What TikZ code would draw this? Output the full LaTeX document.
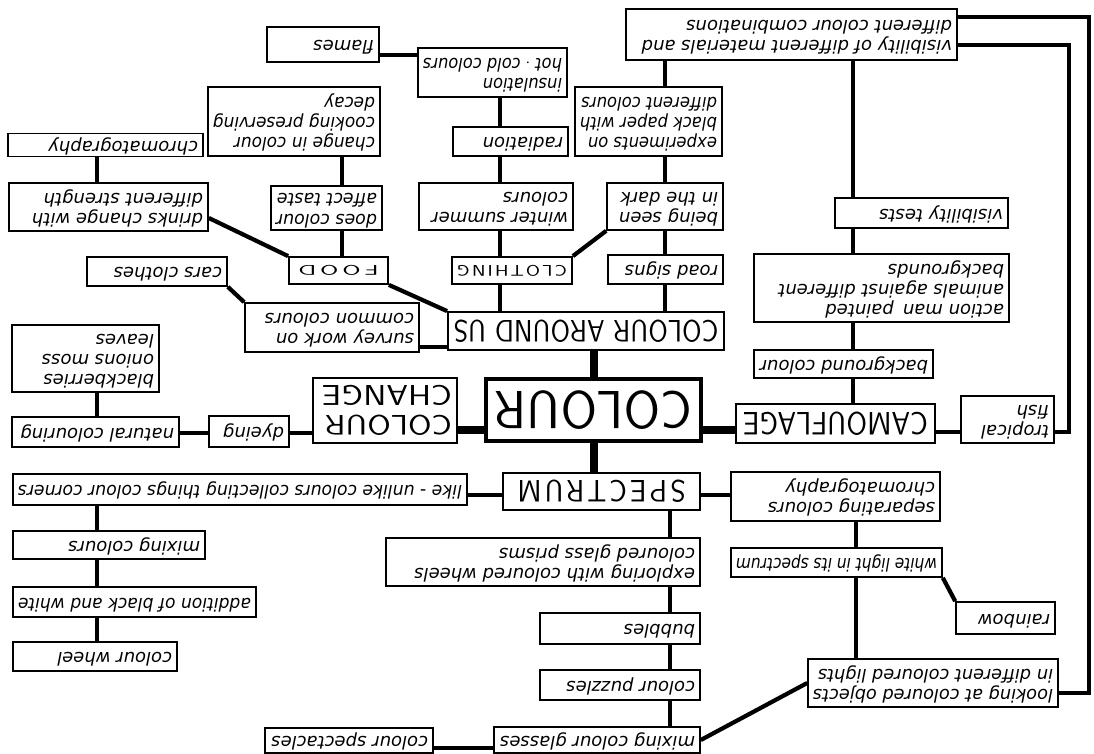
\documentclass[tikz,border=0pt]{standalone}
\usepackage{fontspec}
\usepackage{graphicx}
\usetikzlibrary{backgrounds}
\newfontfamily\hand{DejaVu Sans}
\newcommand\handfont{\hand\itshape\fontsize{18}{20}\selectfont}
\newsavebox\udbox
% text turned upside down, left aligned in its own frame, squeezed if too wide
\newcommand\ud[2]{%
  \sbox\udbox{\begin{tabular}{@{}l@{}}#2\end{tabular}}%
  \ifdim\wd\udbox>#1\relax
    \sbox\udbox{\resizebox{#1}{\ht\udbox}{\usebox\udbox}}%
  \fi
  \rotatebox[origin=c]{180}{\makebox[#1][l]{\usebox\udbox}}}
\newcommand\hd[3]{\rotatebox[origin=c]{180}{\resizebox{#1}{#2}{\sffamily\upshape #3}}}
% \bx{name}{cx}{cy}{w}{h}{text}
\newcommand\bx[6]{\node[box, minimum width=#4pt, minimum height=#5pt] (#1) at (#2,#3) {\ud{\dimexpr#4pt-10pt\relax}{#6}};}
\tikzset{
  box/.style={draw, line width=1.6pt, fill=white, inner sep=0pt, font=\handfont},
  headbox/.style={box, line width=1.8pt},
  link/.style={line width=4.2pt},
  mainlink/.style={line width=8pt},
}
\begin{document}
\begin{tikzpicture}[x=1pt, y=-1pt]
\useasboundingbox (0,0) rectangle (1094,754);

% ---- topic boxes ----
\bx{vis}{791.5}{34.5}{331}{51}{visibility of different materials and\\different colour combinations}
\bx{flames}{323}{44.5}{112}{35}{flames}
\bx{insul}{492.5}{72.5}{149}{49}{insulation\\hot $\cdot$ cold colours}
\bx{change}{294}{121.5}{172}{69}{change in colour\\cooking preserving\\decay}
\bx{exper}{648.5}{121.5}{147}{69}{experiments on\\black paper with\\different colours}
\bx{chrom}{105.5}{145}{195}{23}{chromatography}
\bx{radiation}{510.5}{141.5}{115}{29}{radiation}
\bx{drinks}{108.5}{207}{199}{48}{drinks change with\\different strength}
\bx{does}{326.5}{208}{111}{44}{does colour\\affect taste}
\bx{winter}{496}{206.5}{154}{47}{winter summer\\colours}
\bx{being}{665}{206.5}{116}{47}{being seen\\in the dark}
\bx{vtests}{921.5}{213}{173}{30}{visibility tests}
\bx{cars}{157}{271.5}{140}{29}{cars clothes}
\bx{road}{665.5}{269.5}{115}{29}{road signs}
\bx{action}{881.5}{288}{255}{68}{action man\enspace painted\\animals against different\\backgrounds}
\bx{survey}{332}{327.5}{174}{49}{survey work on\\common colours}
\bx{blackb}{85.5}{358.5}{147}{67}{blackberries\\onions moss\\leaves}
\bx{bgcol}{843.5}{364}{179}{28}{background colour}
\bx{dyeing}{249}{431.5}{80}{31}{dyeing}
\bx{natural}{95.5}{432}{167}{30}{natural colouring}
\bx{tropical}{1007.5}{419.5}{93}{47}{tropical\\fish}
\bx{like}{240}{489.5}{454}{31}{like - unlike colours collecting things colour corners}
\bx{separ}{835.5}{496.5}{209}{49}{separating colours\\chromatography}
\bx{mixing}{109}{545}{192}{28}{mixing colours}
\bx{explor}{543}{562}{314}{48}{exploring with coloured wheels\\coloured glass prisms}
\bx{whitel}{836.5}{562.5}{211}{29}{white light in its spectrum}
\bx{addition}{134.5}{602}{243}{30}{addition of black and white}
\bx{bubbles}{620}{628.5}{160}{31}{bubbles}
\bx{rainbow}{1005.5}{618}{99}{32}{rainbow}
\bx{colwheel}{95}{656.5}{164}{29}{colour wheel}
\bx{puzzles}{620}{685}{160}{30}{colour puzzles}
\bx{looking}{933}{683}{250}{48}{looking at coloured objects\\in different coloured lights}
\bx{glasses}{597}{740}{206}{26}{mixing colour glasses}
\bx{spect}{349}{740.5}{168}{25}{colour spectacles}

% ---- headings ----
\node[headbox, minimum width=99pt, minimum height=27pt] (food) at (338.5,270.5)
  {\hd{80pt}{10pt}{F\kern.15em O\kern.15em O\kern.15em D}};
\node[headbox, minimum width=120pt, minimum height=27pt] (clothing) at (512,270.5)
  {\hd{110pt}{11pt}{C\kern.1em L\kern.1em O\kern.1em T\kern.1em H\kern.1em I\kern.1em N\kern.1em G}};
\node[headbox, minimum width=276pt, minimum height=38pt] (cau) at (586,331)
  {\hd{265pt}{22pt}{COLOUR AROUND US}};
\node[box, line width=4.5pt, minimum width=215pt, minimum height=62pt] (colour) at (593.5,410)
  {\hd{197pt}{38pt}{COLOUR}};
\node[headbox, minimum width=144pt, minimum height=65pt] (cchange) at (385,410.5)
  {\rotatebox[origin=c]{180}{\parbox{134pt}{\raggedright\sffamily\upshape
   \resizebox{127pt}{20pt}{COLOUR}\\[9pt]\resizebox{130pt}{20pt}{CHANGE}}}};
\node[headbox, minimum width=199pt, minimum height=39pt] (camo) at (835.5,423.5)
  {\hd{185pt}{23pt}{CAMOUFLAGE}};
\node[headbox, minimum width=197pt, minimum height=37pt] (spectrum) at (601.5,491.5)
  {\hd{168pt}{22pt}{S\kern.1em P\kern.1em E\kern.1em C\kern.1em T\kern.1em R\kern.1em U\kern.1em M}};

% spine positions for the straight vertical links
\coordinate (xL) at (97,0);
\coordinate (xFood) at (342,0);
\coordinate (xCloth) at (500,0);
\coordinate (xSpec) at (670,0);
\coordinate (xCamo) at (853,0);
\coordinate (xSep) at (856,0);

\begin{scope}[on background layer]
% left column
\draw[link] (xL |- chrom.south) -- (xL |- drinks.north);
\draw[link] ([yshift=-11pt]drinks.east) -- (food.north west);
\draw[link] (xFood |- change.south) -- (xFood |- does.north);
\draw[link] (xFood |- does.south) -- (xFood |- food.north);
\draw[link] ([yshift=-10.5pt]flames.east) -- ([yshift=-10.5pt]flames.east -| insul.west);
\draw[link] (xCloth |- insul.south) -- (xCloth |- radiation.north);
\draw[link] (xCloth |- radiation.south) -- (xCloth |- winter.north);
\draw[link] (xCloth |- winter.south) -- (xCloth |- clothing.north);
\draw[link] (xCloth |- clothing.south) -- (xCloth |- cau.north);
\draw[link] (being |- vis.south) -- (being |- exper.north);
\draw[link] (being |- exper.south) -- (being.north);
\draw[link] (being.south) -- (being |- road.north);
\draw[link] (being |- road.south) -- (being |- cau.north);
\draw[link] (being.south west) -- (clothing.north east);
\draw[link] (food.south east) -- (cau.north west);
\draw[link] (cars.south east) -- (survey.north west);
\draw[link] ([yshift=-16pt]cau.west) -- ([yshift=-16pt]cau.west -| survey.east);
% camouflage column
\draw[link] (xCamo |- vis.south) -- (xCamo |- vtests.north);
\draw[link] (xCamo |- vtests.south) -- (xCamo |- action.north);
\draw[link] (xCamo |- action.south) -- (xCamo |- bgcol.north);
\draw[link] (xCamo |- bgcol.south) -- (xCamo |- camo.north);
\draw[link] ([yshift=-8.5pt]camo.east) -- ([yshift=-8.5pt]camo.east -| tropical.west);
\draw[link] ([yshift=-12.5pt]tropical.east) -- ++(14,0) |- ([yshift=-10.5pt]vis.east);
\draw[link] ([yshift=-10pt]looking.east) -- ++(30,0) |- ([yshift=17.5pt]vis.east);
% centre
\draw[mainlink] (colour |- cau.south) -- (colour.north);
\draw[mainlink] ([yshift=-20pt]colour.west) -- ([yshift=-20pt]colour.west -| cchange.east);
\draw[mainlink] ([yshift=-20pt]colour.east) -- ([yshift=-20pt]colour.east -| camo.west);
\draw[mainlink] (colour.south) -- (colour |- spectrum.north);
% colour change
\draw[link] ([yshift=-1.5pt]dyeing.east) -- ([yshift=-1.5pt]dyeing.east -| cchange.west);
\draw[link] ([yshift=-1.5pt]dyeing.west) -- ([yshift=-1.5pt]dyeing.west -| natural.east);
\draw[link] (xL |- natural.north) -- (xL |- blackb.south);
% spectrum
\draw[link] ([yshift=-3.5pt]spectrum.west) -- ([yshift=-3.5pt]spectrum.west -| like.east);
\draw[link] ([yshift=-3.5pt]spectrum.east) -- ([yshift=-3.5pt]spectrum.east -| separ.west);
\draw[link] (xL |- like.south) -- (xL |- mixing.north);
\draw[link] (xL |- mixing.south) -- (xL |- addition.north);
\draw[link] (xL |- addition.south) -- (xL |- colwheel.north);
\draw[link] (xSpec |- spectrum.south) -- (xSpec |- explor.north);
\draw[link] (xSpec |- explor.south) -- (xSpec |- bubbles.north);
\draw[link] (xSpec |- bubbles.south) -- (xSpec |- puzzles.north);
\draw[link] (xSpec |- puzzles.south) -- (xSpec |- glasses.north);
\draw[link] (xSep |- separ.south) -- (xSep |- whitel.north);
\draw[link] (xSep |- whitel.south) -- (xSep |- looking.north);
\draw[link] (whitel.south east) -- (rainbow.north west);
\draw[link] (looking.west) -- (glasses.east);
\draw[link] ([yshift=-8pt]glasses.west) -- ([yshift=-8pt]glasses.west -| spect.east);
\end{scope}
\end{tikzpicture}
\end{document}
